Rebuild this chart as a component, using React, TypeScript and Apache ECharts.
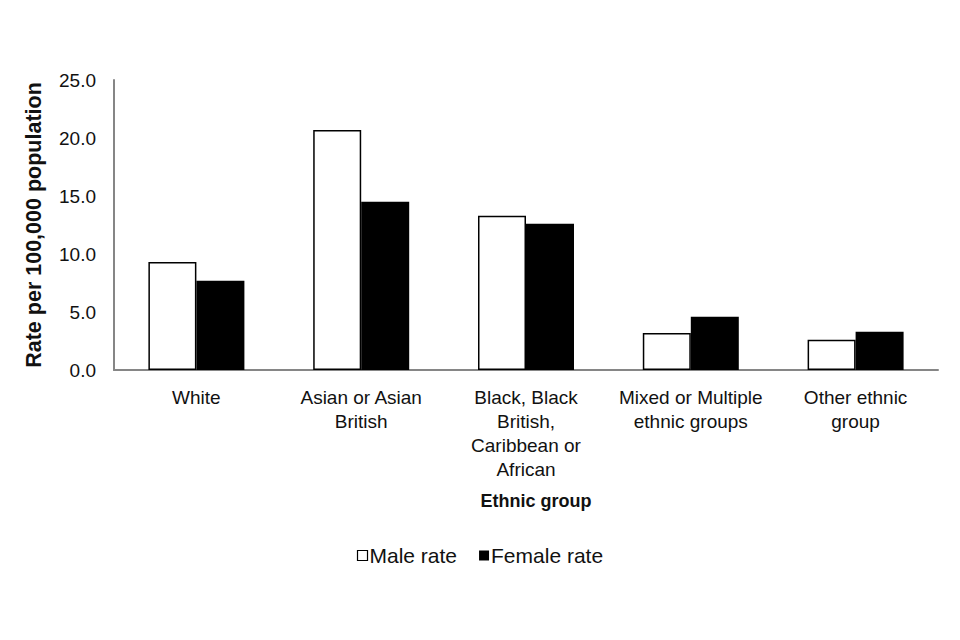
import React, { useEffect, useRef } from "react";
import * as echarts from "echarts";

const categories = [
  "White",
  "Asian or Asian British",
  "Black, Black British, Caribbean or African",
  "Mixed or Multiple ethnic groups",
  "Other ethnic group",
];
const wrappedLabels = [
  "White",
  "Asian or Asian\nBritish",
  "Black, Black\nBritish,\nCaribbean or\nAfrican",
  "Mixed or Multiple\nethnic groups",
  "Other ethnic\ngroup",
];
const maleRate = [9.3, 20.7, 13.3, 3.2, 2.6];
const femaleRate = [7.7, 14.5, 12.6, 4.6, 3.3];
const yTicks = { min: 0, max: 25, interval: 5 };

const FONT = "'Liberation Sans', Arial, sans-serif";
const TXT = "#111111";

export default function App() {
  const ref = useRef<HTMLDivElement>(null);
  useEffect(() => {
    if (!ref.current) return;
    const chart = echarts.init(ref.current, undefined, { renderer: "svg" });
    chart.setOption({
      animation: false,
      backgroundColor: "#ffffff",
      textStyle: { fontFamily: FONT },
      grid: { left: 114, right: 22, top: 80, bottom: 270, containLabel: false },
      legend: {
        top: 540,
        left: "center",
        itemWidth: 10,
        itemHeight: 10,
        itemGap: 22,
        icon: "rect",
        textStyle: { fontFamily: FONT, fontSize: 21, color: TXT, padding: [0, 0, 0, -3] },
        data: [
          { name: "Male rate", itemStyle: { color: "#ffffff", borderColor: "#000", borderWidth: 1.2 } },
          { name: "Female rate", itemStyle: { color: "#000000" } },
        ],
      },
      xAxis: {
        type: "category",
        data: categories,
        name: "Ethnic group",
        nameLocation: "middle",
        nameGap: 122,
        nameTextStyle: { fontFamily: FONT, fontSize: 18, fontWeight: "bold", color: TXT, padding: [0, 0, 0, 20] },
        axisLine: { lineStyle: { color: "#868686", width: 2 } },
        axisTick: { show: false },
        axisLabel: {
          interval: 0,
          fontFamily: FONT,
          fontSize: 19,
          color: TXT,
          lineHeight: 24,
          margin: 15,
          formatter: (v: string) => wrappedLabels[categories.indexOf(v)] ?? v,
        },
      },
      yAxis: {
        type: "value",
        min: yTicks.min,
        max: yTicks.max,
        interval: yTicks.interval,
        name: "Rate per 100,000 population",
        nameLocation: "middle",
        nameGap: 69,
        nameTextStyle: { fontFamily: FONT, fontSize: 21.5, fontWeight: "bold", color: TXT },
        axisLine: { show: true, lineStyle: { color: "#868686", width: 2 } },
        axisTick: { show: false },
        splitLine: { show: false },
        axisLabel: {
          fontFamily: FONT,
          fontSize: 19,
          color: TXT,
          margin: 18,
          formatter: (v: number) => v.toFixed(1),
        },
      },
      series: [
        {
          name: "Male rate",
          type: "bar",
          data: maleRate,
          barWidth: 48,
          barGap: "0%",
          itemStyle: { color: "#ffffff", borderColor: "#000000", borderWidth: 1.5 },
        },
        {
          name: "Female rate",
          type: "bar",
          data: femaleRate,
          barWidth: 48,
          barGap: "0%",
          itemStyle: { color: "#000000" },
        },
      ],
    });
    return () => chart.dispose();
  }, []);
  return (
    <div
      ref={ref}
      style={{ position: "fixed", left: 0, top: 0, width: 960, height: 640, background: "#fff" }}
    />
  );
}
